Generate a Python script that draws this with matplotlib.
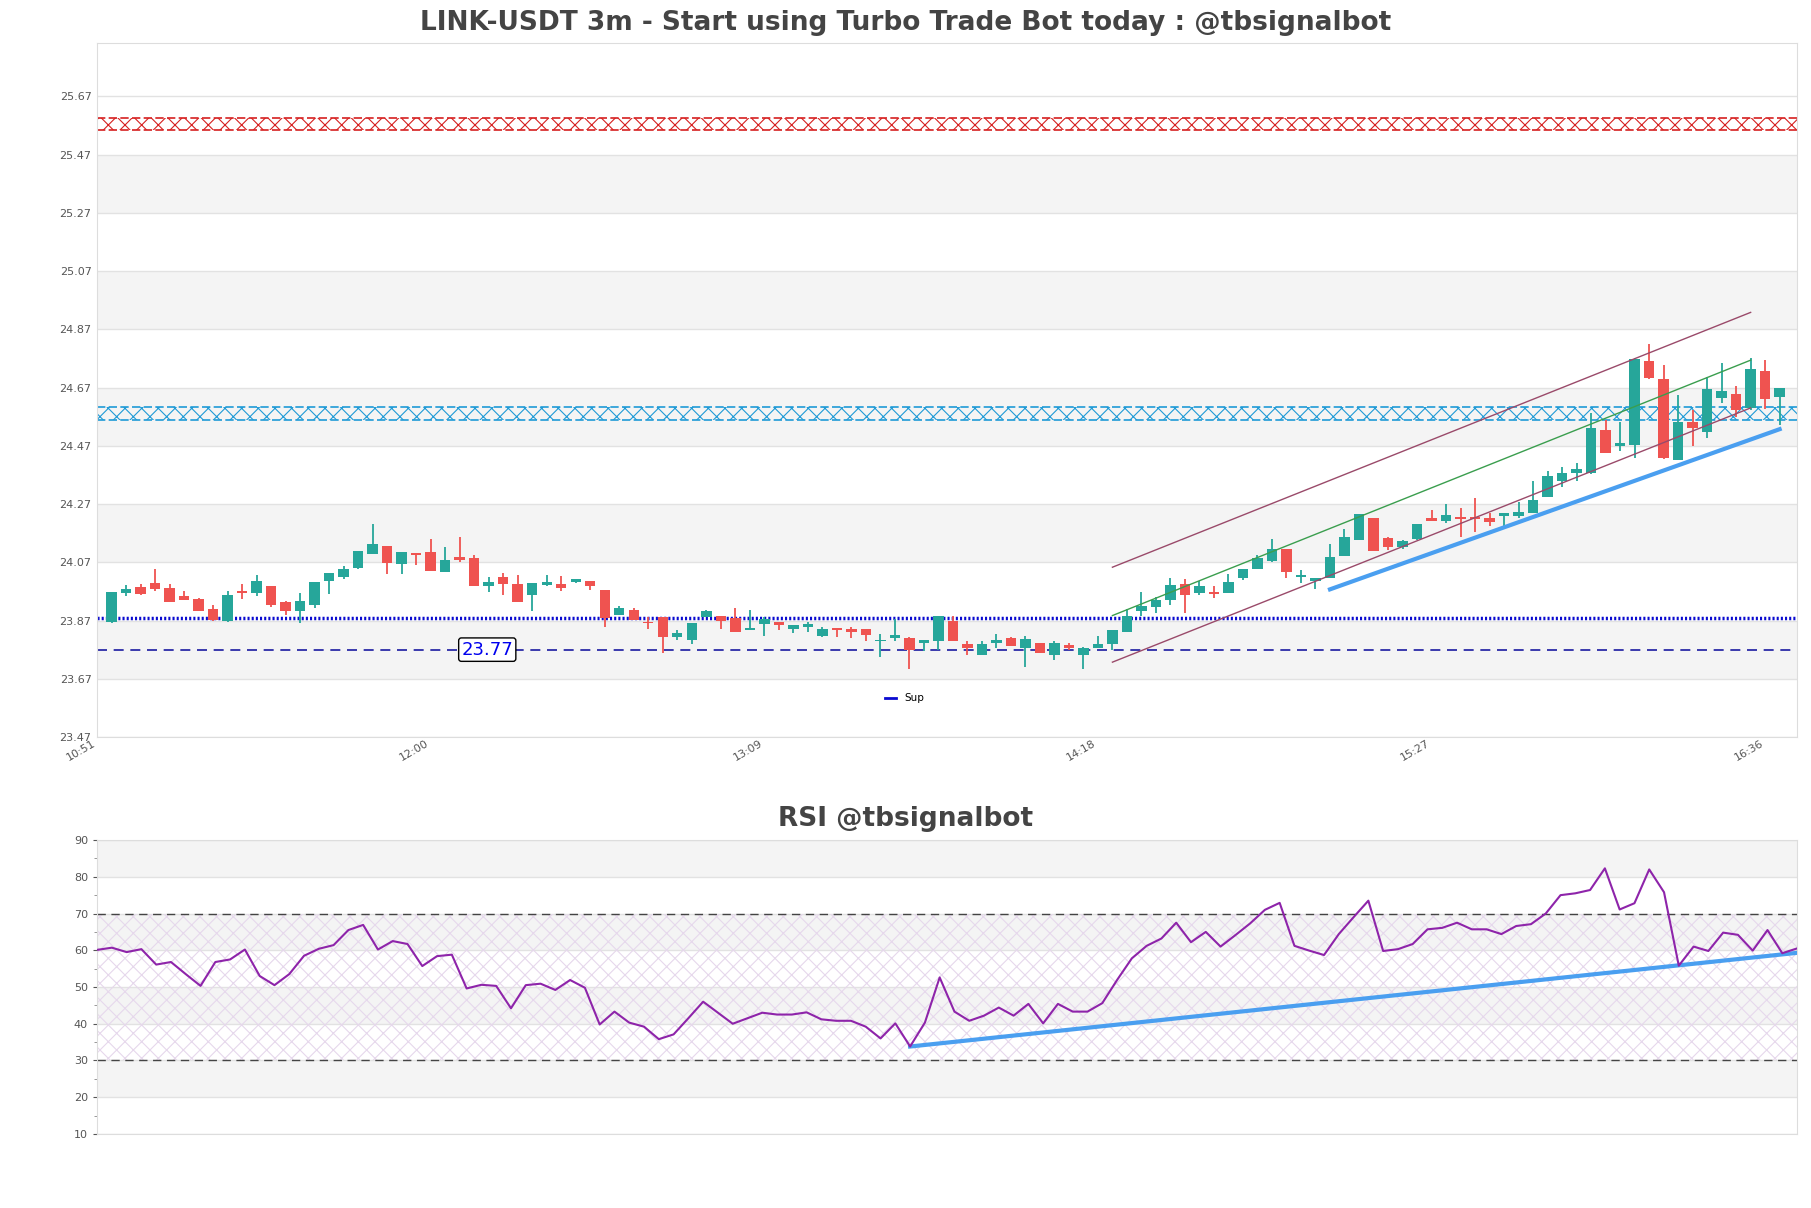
import matplotlib
matplotlib.use('Agg')
import matplotlib.pyplot as plt
import numpy as np
from matplotlib.lines import Line2D

# candle data (3m, LINK-USDT)
opens = [23.866, 23.966, 23.984, 23.999, 23.981, 23.954, 23.944, 23.910, 23.870, 23.973,
         23.966, 23.988, 23.934, 23.904, 23.924, 24.007, 24.020, 24.049, 24.100, 24.126,
         24.065, 24.103, 24.105, 24.038, 24.088, 24.085, 23.990, 24.020, 23.996, 23.959,
         23.992, 23.996, 24.003, 24.005, 23.975, 23.890, 23.906, 23.866, 23.881, 23.815,
         23.803, 23.881, 23.886, 23.878, 23.836, 23.858, 23.866, 23.842, 23.849, 23.818,
         23.845, 23.841, 23.841, 23.798, 23.810, 23.810, 23.794, 23.801, 23.870, 23.790,
         23.753, 23.794, 23.810, 23.774, 23.793, 23.753, 23.785, 23.753, 23.776, 23.789,
         23.832, 23.901, 23.918, 23.939, 23.996, 23.966, 23.967, 23.966, 24.015, 24.046,
         24.076, 24.116, 24.018, 24.007, 24.015, 24.093, 24.145, 24.221, 24.153, 24.124,
         24.149, 24.221, 24.213, 24.224, 24.227, 24.221, 24.230, 24.230, 24.240, 24.295,
         24.350, 24.375, 24.377, 24.524, 24.469, 24.472, 24.761, 24.699, 24.421, 24.550,
         24.518, 24.635, 24.647, 24.601, 24.726, 24.638]
highs = [23.968, 23.992, 23.996, 24.047, 23.996, 23.972, 23.948, 23.924, 23.972, 23.996,
         24.027, 23.988, 23.937, 23.964, 24.003, 24.033, 24.057, 24.109, 24.202, 24.126,
         24.105, 24.103, 24.150, 24.121, 24.158, 24.095, 24.019, 24.032, 24.027, 23.998,
         24.027, 24.023, 24.013, 24.005, 23.975, 23.920, 23.912, 23.883, 23.881, 23.838,
         23.862, 23.906, 23.886, 23.912, 23.906, 23.881, 23.866, 23.855, 23.865, 23.846,
         23.845, 23.849, 23.841, 23.824, 23.874, 23.813, 23.803, 23.886, 23.884, 23.801,
         23.798, 23.824, 23.815, 23.817, 23.793, 23.798, 23.792, 23.778, 23.817, 23.838,
         23.909, 23.967, 23.952, 24.015, 24.012, 24.004, 23.987, 24.029, 24.046, 24.095,
         24.150, 24.116, 24.044, 24.015, 24.133, 24.183, 24.235, 24.221, 24.156, 24.147,
         24.202, 24.250, 24.270, 24.255, 24.289, 24.240, 24.238, 24.278, 24.349, 24.383,
         24.397, 24.410, 24.581, 24.560, 24.550, 24.773, 24.818, 24.749, 24.644, 24.593,
         24.707, 24.753, 24.675, 24.770, 24.764, 24.670]
lows = [23.863, 23.953, 23.956, 23.973, 23.932, 23.942, 23.904, 23.870, 23.866, 23.943,
        23.954, 23.918, 23.889, 23.863, 23.914, 23.961, 24.013, 24.046, 24.100, 24.030,
        24.030, 24.061, 24.041, 24.038, 24.072, 23.987, 23.969, 23.959, 23.932, 23.904,
        23.987, 23.972, 24.000, 23.975, 23.846, 23.890, 23.872, 23.841, 23.757, 23.803,
        23.790, 23.881, 23.841, 23.829, 23.836, 23.818, 23.838, 23.826, 23.832, 23.815,
        23.815, 23.811, 23.801, 23.743, 23.798, 23.705, 23.766, 23.769, 23.801, 23.752,
        23.753, 23.777, 23.781, 23.712, 23.757, 23.733, 23.769, 23.703, 23.776, 23.769,
        23.832, 23.884, 23.895, 23.922, 23.897, 23.956, 23.947, 23.966, 24.010, 24.046,
        24.072, 24.015, 24.000, 23.978, 24.015, 24.093, 24.145, 24.110, 24.113, 24.115,
        24.145, 24.213, 24.206, 24.156, 24.175, 24.196, 24.196, 24.223, 24.240, 24.295,
        24.327, 24.350, 24.373, 24.446, 24.453, 24.427, 24.699, 24.423, 24.421, 24.470,
        24.495, 24.618, 24.570, 24.593, 24.596, 24.541]
closes = [23.968, 23.978, 23.962, 23.978, 23.932, 23.942, 23.904, 23.873, 23.957, 23.966,
          24.006, 23.922, 23.901, 23.937, 24.003, 24.033, 24.047, 24.109, 24.131, 24.069,
          24.105, 24.096, 24.041, 24.078, 24.078, 23.989, 24.001, 23.997, 23.932, 23.998,
          24.003, 23.983, 24.013, 23.990, 23.880, 23.913, 23.872, 23.860, 23.815, 23.828,
          23.862, 23.903, 23.870, 23.829, 23.845, 23.874, 23.854, 23.855, 23.858, 23.841,
          23.836, 23.832, 23.821, 23.804, 23.819, 23.768, 23.803, 23.886, 23.801, 23.777,
          23.790, 23.803, 23.781, 23.808, 23.757, 23.793, 23.774, 23.775, 23.790, 23.838,
          23.886, 23.921, 23.941, 23.992, 23.956, 23.989, 23.962, 24.002, 24.046, 24.084,
          24.115, 24.035, 24.026, 24.015, 24.087, 24.156, 24.235, 24.110, 24.121, 24.142,
          24.202, 24.213, 24.233, 24.217, 24.220, 24.209, 24.238, 24.244, 24.284, 24.366,
          24.375, 24.390, 24.532, 24.446, 24.478, 24.768, 24.703, 24.429, 24.550, 24.532,
          24.665, 24.658, 24.593, 24.735, 24.629, 24.670]

time_labels = ['10:51', '12:00', '13:09', '14:18', '15:27', '16:36']

rsi = [60.1, 60.7, 59.5, 60.3, 56.1, 56.8, 53.5, 50.3, 56.8, 57.5,
       60.2, 53.0, 50.5, 53.5, 58.5, 60.4, 61.4, 65.5, 66.9, 60.2,
       62.5, 61.7, 55.7, 58.4, 58.8, 49.6, 50.6, 50.3, 44.2, 50.5,
       50.9, 49.2, 51.9, 49.8, 39.8, 43.3, 40.3, 39.2, 35.8, 37.1,
       41.5, 46.0, 43.0, 40.0, 41.5, 43.0, 42.5, 42.5, 43.1, 41.2,
       40.8, 40.8, 39.2, 36.0, 40.1, 33.8, 40.3, 52.6, 43.3, 40.8,
       42.2, 44.4, 42.2, 45.4, 40.1, 45.4, 43.3, 43.3, 45.6, 51.9,
       57.8, 61.2, 63.2, 67.5, 62.2, 65.0, 61.0, 64.1, 67.3, 71.0,
       72.9, 61.2, 59.9, 58.7, 64.4, 69.0, 73.5, 59.8, 60.3, 61.7,
       65.7, 66.1, 67.5, 65.7, 65.7, 64.4, 66.6, 67.1, 70.0, 75.0,
       75.5, 76.4, 82.3, 71.1, 72.8, 82.0, 75.8, 55.8, 61.0, 59.8,
       64.8, 64.2, 59.9, 65.5, 59.2, 60.5]

# levels and drawn lines
resistance_zone = (25.553, 25.597)
support_zone = (24.560, 24.603)
sup_level = 23.878
sup_price = 23.77
channel_x = [70, 114]
channel_upper = [24.053, 24.928]
channel_mid = [23.887, 24.764]
channel_lower = [23.727, 24.600]
trend_x = [85, 116]
trend_y = [23.977, 24.527]
rsi_trend_x = [55, 115]
rsi_trend_y = [33.8, 59.3]

green = '#26a69a'
red = '#ef5350'
plt.rcParams['hatch.linewidth'] = 0.8

fig = plt.figure(figsize=(18.11, 12.08), dpi=100)
ax = fig.add_axes([0.0536, 0.3899, 0.9387, 0.5745])
ax2 = fig.add_axes([0.0536, 0.0613, 0.9387, 0.2433])

# ---- price chart ----
ymin, ymax = 23.47, 25.853
yticks = [23.47 + 0.2 * k for k in range(12)]
for k in range(1, 11, 2):
    ax.axhspan(yticks[k], yticks[k + 1], color='#f4f4f4', zorder=0, lw=0)
for t in yticks:
    ax.axhline(t, color='#e2e2e2', lw=1, zorder=0.5)

x = np.arange(1, len(opens) + 1)
o = np.array(opens)
c = np.array(closes)
cols = [green if cc >= oo else red for oo, cc in zip(o, c)]
ax.vlines(x, lows, highs, colors=cols, lw=1.3, zorder=3)
ax.bar(x, np.abs(c - o), bottom=np.minimum(o, c), width=0.72, color=cols, zorder=4)

# zones
ax.fill_between([0, 117.2], *resistance_zone, facecolor='none', edgecolor='#d62020',
                hatch='xx', lw=0, zorder=2)
for lv in resistance_zone:
    ax.axhline(lv, color='#d62020', lw=1.2, ls=(0, (5, 2)), zorder=2)
ax.fill_between([0, 117.2], *support_zone, facecolor='none', edgecolor='#1f9ad6',
                hatch='xx', lw=0, zorder=2)
for lv in support_zone:
    ax.axhline(lv, color='#1f9ad6', lw=1.2, ls=(0, (5, 2)), zorder=2)

ax.axhline(sup_level, color='#0a0ad0', lw=2.5, ls=(0, (0.6, 0.6)), zorder=2)
ax.axhline(sup_price, color='#1a1aa0', lw=1.2, ls=(0, (6, 4)), zorder=2)
ax.text(26.9, sup_price, '23.77', color='#0000ee', fontsize=13, ha='center', va='center',
        bbox=dict(boxstyle='round,pad=0.15', fc='white', ec='black', lw=1), zorder=6)

ax.plot(channel_x, channel_upper, color='#9a4a6a', lw=1, zorder=5)
ax.plot(channel_x, channel_mid, color='#3a9e4e', lw=1, zorder=5)
ax.plot(channel_x, channel_lower, color='#9a4a6a', lw=1, zorder=5)
ax.plot(trend_x, trend_y, color='#4a9ff0', lw=3, zorder=5)

ax.legend([Line2D([0], [0], color='#0a0ad0', lw=2)], ['Sup'], loc='lower center',
          bbox_to_anchor=(0.475, 0.035), frameon=False, fontsize=7.5, handlelength=1)

ax.set_xlim(0, 117.2)
ax.set_ylim(ymin, ymax)
ax.set_yticks(yticks)
ax.set_yticklabels(['%.2f' % t for t in yticks])
ax.set_xticks([0, 23, 46, 69, 92, 115])
ax.set_xticklabels(time_labels, rotation=30, ha='right')
ax.tick_params(labelsize=8, colors='#555555', length=0, pad=4)
ax.tick_params(axis='x', pad=1)
for s in ax.spines.values():
    s.set_color('#dddddd')

fig.text(0.5, 0.981, 'LINK-USDT 3m - Start using Turbo Trade Bot today : @tbsignalbot',
         ha='center', va='center', fontsize=19, fontweight='bold', color='#444444')

# ---- RSI ----
for lo in [20, 40, 60, 80]:
    ax2.axhspan(lo, lo + 10, color='#f4f4f4', zorder=0, lw=0)
for t in range(10, 91, 10):
    ax2.axhline(t, color='#e2e2e2', lw=1, zorder=0.5)
ax2.fill_between([0, 115], 30, 70, facecolor='none', edgecolor='#e6d8ec', hatch='xx',
                 lw=0, zorder=1)
ax2.axhline(70, color='#444444', lw=1, ls=(0, (6, 4)), zorder=2)
ax2.axhline(30, color='#444444', lw=1, ls=(0, (6, 4)), zorder=2)
ax2.plot(np.arange(len(rsi)), rsi, color='#8e24aa', lw=1.5, zorder=4)
ax2.plot(rsi_trend_x, rsi_trend_y, color='#4a9ff0', lw=3, zorder=3)

ax2.set_xlim(0, 115)
ax2.set_ylim(10, 90)
ax2.set_yticks(range(10, 91, 10))
ax2.set_yticks(range(15, 90, 10), minor=True)
ax2.set_xticks([])
ax2.tick_params(labelsize=8, colors='#555555', length=3)
ax2.tick_params(which='minor', length=2, colors='#888888')
for s in ax2.spines.values():
    s.set_color('#dddddd')

fig.text(0.5, 0.322, 'RSI @tbsignalbot', ha='center', va='center', fontsize=19,
         fontweight='bold', color='#444444')

plt.savefig('out.png', dpi=100)
